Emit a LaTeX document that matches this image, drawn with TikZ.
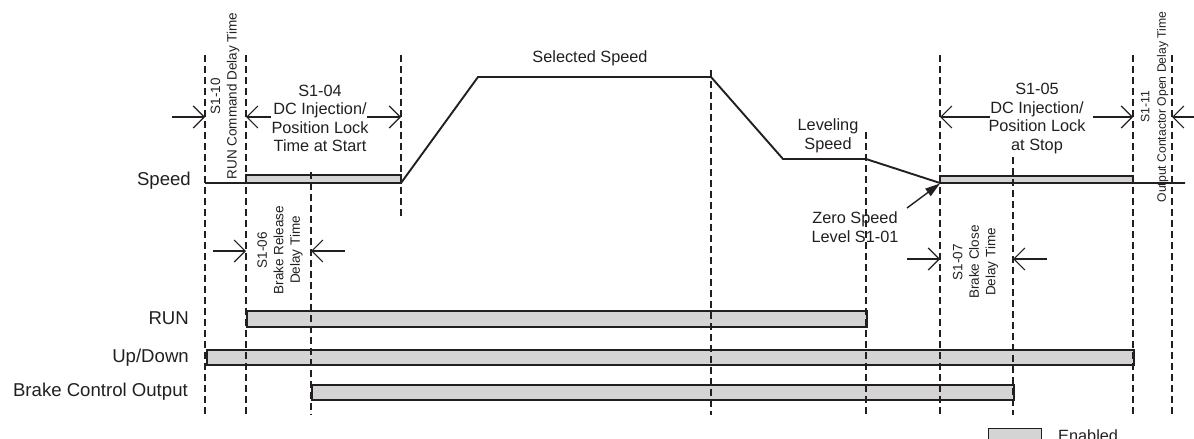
\documentclass[tikz,border=0pt]{standalone}
\usepackage{fontspec}
\setmainfont{Liberation Sans}
\usetikzlibrary{arrows.meta}
\definecolor{ink}{HTML}{231F20}
\definecolor{barfill}{HTML}{D4D4D4}
\tikzset{
  lbl/.style={font=\fontsize{18.6}{21}\selectfont, text=ink, anchor=base east, inner sep=0pt},
  ann/.style={font=\fontsize{16.3}{18.5}\selectfont, text=ink, align=center, inner sep=0pt},
  rot/.style={font=\fontsize{13.5}{16.5}\selectfont, text=ink, align=center, rotate=90, inner sep=0pt},
  guide/.style={draw=ink, line width=1.2pt, dash pattern=on 6.5pt off 4.5pt},
  sig/.style={draw=ink, line width=1.9pt, line join=miter},
  bar/.style={draw=ink, fill=barfill, line width=1.5pt},
  dimarrow/.style={draw=ink, line width=1.2pt, -{Straight Barb[length=11pt,width=22pt]}},
  zeroarrow/.style={draw=ink, line width=1.4pt, -{Triangle[length=15pt,width=9pt]}},
}
\begin{document}
\begin{tikzpicture}[x=1pt,y=-1pt]
\useasboundingbox (0,0) rectangle (1194,439);

% bars
\draw[bar] (246,175) rectangle (401,183);
\draw[bar] (940,176) rectangle (1133,183);
\node[bar, minimum width=620pt, minimum height=16pt, inner sep=0pt, anchor=north west] (runbar) at (246,310) {};
\node[bar, minimum width=927pt, minimum height=15pt, inner sep=0pt, anchor=north west] (udbar) at (206,349) {};
\node[bar, minimum width=702pt, minimum height=15pt, inner sep=0pt, anchor=north west] (bcobar) at (311,384) {};

% dashed guide lines
\foreach \gx/\ga/\gb in {205/55/415, 246/55/415, 311/172/415, 401/55/219, 711/70/415,
                         866/132/415, 940/55/415, 1013/157/415, 1133/55/415, 1172/55/415}
  \draw[guide] (\gx,\ga) -- (\gx,\gb);

% speed profile
\draw[sig] (205,183) -- (401,183) -- (478,77) -- (711,77) -- (783,159) -- (866,159) -- (940,183) -- (1185,183);

% row labels
\node[lbl] (lspeed) at (191,185) {Speed};
\node[lbl] (lrun) at (189,324) {RUN};
\node[lbl] (lud) at (189,362.5) {Up/Down};
\node[lbl] (lbco) at (188,396.5) {Brake Control Output};

% annotations
\node[ann] (sel) at (590,58) {Selected Speed};
\node[ann] (s104) at (320,118.5) {S1-04\\DC Injection/\\Position Lock\\Time at Start};
\node[ann] (s105) at (1037,118.5) {S1-05\\DC Injection/\\Position Lock\\at Stop};
\node[ann] (lev) at (828,136) {Leveling\\Speed};
\node[ann] (zero) at (855,227) {Zero Speed\\Level S1-01};

\node[rot] (s110) at (225,96) {S1-10\\RUN Command Delay Time};
\node[rot] (s106) at (280,250) {S1-06\\Brake Release\\Delay Time};
\node[rot] (s107) at (975.5,262) {S1-07\\Brake Close\\Delay Time};
\node[rot, font=\fontsize{12.2}{16.5}\selectfont] (s111) at (1154.5,107) {S1-11\\Output Contactor Open Delay Time};

% dimension arrow end points
\coordinate (a10s) at (172,117);  \coordinate (a10e) at (205,117);
\coordinate (a4ls) at (271,117);  \coordinate (a4le) at (246,117);
\coordinate (a4rs) at (367,117);  \coordinate (a4re) at (401,117);
\coordinate (a5ls) at (990,117);  \coordinate (a5le) at (940,117);
\coordinate (a5rs) at (1093,117); \coordinate (a5re) at (1133,117);
\coordinate (a11s) at (1194,117); \coordinate (a11e) at (1172,117);
\coordinate (a6ls) at (213,251);  \coordinate (a6le) at (246,251);
\coordinate (a6rs) at (345,251);  \coordinate (a6re) at (311,251);
\coordinate (a7ls) at (907,259);  \coordinate (a7le) at (940,259);
\coordinate (a7rs) at (1047,259); \coordinate (a7re) at (1013,259);
\coordinate (zs) at (907,208);    \coordinate (ze) at (940,183.5);

\draw[dimarrow] (a10s) -- (a10e);
\draw[dimarrow] (a4ls) -- (a4le);
\draw[dimarrow] (a4rs) -- (a4re);
\draw[dimarrow] (a5ls) -- (a5le);
\draw[dimarrow] (a5rs) -- (a5re);
\draw[dimarrow] (a11s) -- (a11e);
\draw[dimarrow] (a6ls) -- (a6le);
\draw[dimarrow] (a6rs) -- (a6re);
\draw[dimarrow] (a7ls) -- (a7le);
\draw[dimarrow] (a7rs) -- (a7re);
\draw[zeroarrow] (zs) -- (ze);

% legend
\node[bar, line width=1.2pt, minimum width=53pt, minimum height=22pt, inner sep=0pt, anchor=north west] (legbox) at (988,428) {};
\node[ann, anchor=base west] (legtxt) at (1058,441.5) {Enabled};
\end{tikzpicture}
\end{document}
